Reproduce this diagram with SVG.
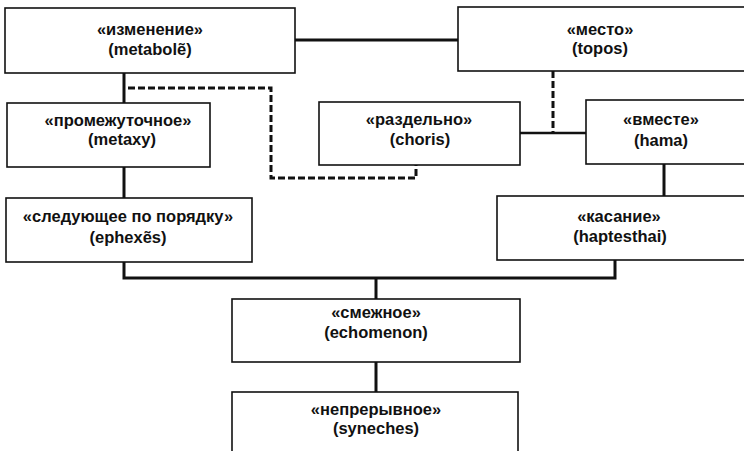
<svg xmlns="http://www.w3.org/2000/svg" width="744" height="451" viewBox="0 0 744 451">
<style>
.box{fill:#fff;stroke:#111;stroke-width:1.6}
.t{font-family:"Liberation Sans",Arial,sans-serif;font-size:16.5px;font-weight:bold;fill:#111;text-anchor:middle}
.c{fill:none;stroke:#111;stroke-width:3}
.thin{fill:none;stroke:#111;stroke-width:2.5}
.d{fill:none;stroke:#111;stroke-width:3;stroke-dasharray:7,3}
</style>
<rect width="744" height="451" fill="#fff"/>
<g id="connectors">
<line class="c" x1="295" y1="40" x2="458" y2="40"/>
<line class="c" x1="124" y1="73" x2="124" y2="103"/>
<line class="c" x1="124" y1="167" x2="124" y2="198"/>
<path class="c" d="M124,262 V278 H615 V260"/>
<line class="c" x1="376" y1="278" x2="376" y2="299"/>
<line class="c" x1="376" y1="362" x2="376" y2="392"/>
<line class="c" x1="664" y1="164" x2="664" y2="196"/>
<line class="thin" x1="520" y1="133" x2="586" y2="133"/>
<line class="d" x1="553" y1="71" x2="553" y2="133"/>
<path class="d" d="M128,88 H271 V178 H416 V165"/>
</g>
<g id="izmenenie">
<rect class="box" x="5" y="8" width="290" height="65"/>
<text class="t" x="150" y="35">«изменение»</text>
<text class="t" x="150" y="55">(metabolẽ)</text>
</g>
<g id="mesto">
<rect class="box" x="458" y="7" width="292" height="64"/>
<text class="t" x="600" y="35">«место»</text>
<text class="t" x="600" y="54">(topos)</text>
</g>
<g id="promezhutochnoe">
<rect class="box" x="7" y="103" width="203" height="64"/>
<text class="t" x="118" y="126">«промежуточное»</text>
<text class="t" x="122" y="145">(metaxy)</text>
</g>
<g id="razdelno">
<rect class="box" x="319" y="102" width="201" height="63"/>
<text class="t" x="419" y="125">«раздельно»</text>
<text class="t" x="420" y="145">(choris)</text>
</g>
<g id="vmeste">
<rect class="box" x="586" y="100" width="164" height="64"/>
<text class="t" x="661" y="125">«вместе»</text>
<text class="t" x="661" y="146">(hama)</text>
</g>
<g id="sleduyushchee">
<rect class="box" x="6" y="198" width="246" height="64"/>
<text class="t" x="128" y="222">«следующее по порядку»</text>
<text class="t" x="128" y="243">(ephexẽs)</text>
</g>
<g id="kasanie">
<rect class="box" x="497" y="196" width="253" height="64"/>
<text class="t" x="619" y="222">«касание»</text>
<text class="t" x="620" y="242">(haptesthai)</text>
</g>
<g id="smezhnoe">
<rect class="box" x="232" y="299" width="288" height="63"/>
<text class="t" x="376" y="318">«смежное»</text>
<text class="t" x="376" y="338">(echomenon)</text>
</g>
<g id="nepreryvnoe">
<rect class="box" x="232" y="392" width="286" height="70"/>
<text class="t" x="376" y="415">«непрерывное»</text>
<text class="t" x="376" y="434">(syneches)</text>
</g>
</svg>
